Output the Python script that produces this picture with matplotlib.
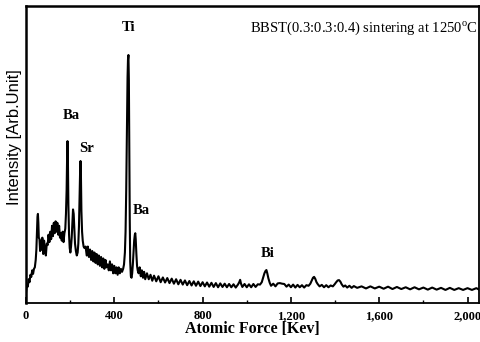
import matplotlib
matplotlib.use("Agg")
import matplotlib.pyplot as plt
from matplotlib.ticker import MultipleLocator, FuncFormatter

energy = [
    0, 4, 8, 12, 16, 20, 24, 28, 32, 36, 40, 44, 47, 50, 52, 54, 56, 58, 61, 64, 67,
    70, 74, 78, 82, 86, 90, 94, 98, 102, 106, 110, 114, 118, 122, 126, 130, 134, 138, 142,
    146, 150, 154, 158, 162, 166, 170, 174, 178,
    181, 184, 186, 188, 190, 192, 195, 198, 201, 204, 207, 210, 213, 216, 219, 222, 226,
    230, 234, 237, 240, 243, 245, 247, 249, 251, 254, 257, 261, 265, 270,
    275, 280, 285, 290, 295, 300, 305, 310, 315, 320, 325, 330, 335, 340, 345, 350, 355,
    360, 365, 370, 375, 380, 385, 390, 395, 400, 405, 410, 415, 420, 425, 430, 435, 440,
    444, 448, 451, 454, 457, 460, 462, 464, 466, 468, 470, 472, 475, 478,
    481, 484, 487, 490, 493, 495, 497, 500, 503, 506, 510,
    515, 520, 525, 530, 535, 540, 548, 556, 564, 572, 580, 590, 600, 610, 620, 630, 640,
    650, 660, 670, 680, 690, 700, 710, 720, 730, 740, 750, 760, 770, 780, 790, 800, 810,
    820, 830, 840, 850, 860, 870, 880, 890, 900, 910, 920, 930, 940, 950, 960, 966, 970,
    974, 980, 990, 1000,
    1010, 1020, 1030, 1040, 1050, 1060, 1068, 1074, 1080, 1085, 1089, 1093, 1098, 1104,
    1110, 1120, 1130, 1140, 1150, 1160, 1170, 1180, 1190, 1200, 1210, 1220, 1230, 1240,
    1250, 1260, 1270, 1280, 1288, 1294, 1300, 1305, 1310, 1316, 1322, 1330, 1340, 1350,
    1360, 1370, 1380, 1390, 1398, 1405, 1412, 1418, 1424, 1430, 1438, 1446, 1455, 1465,
    1475, 1485, 1500,
    1520, 1540, 1560, 1580, 1600, 1620, 1640, 1660, 1680, 1700, 1720, 1740, 1760, 1780,
    1800, 1820, 1840, 1860, 1880, 1900, 1920, 1940, 1960, 1980, 2000, 2020, 2040, 2050,
]

intensity = [
    3.5, 6, 5.5, 8, 7, 9.5, 8.8, 11, 9.8, 11.5, 12, 14.5, 18, 25, 29, 30, 27, 22, 21.5, 17.5, 21,
    18, 22, 16.5, 21, 17.5, 16, 20, 19.5, 23, 20.5, 24, 21.5, 26, 22.5, 27, 23.5, 27.5, 24, 27,
    23, 26, 22, 23.5, 21, 24, 20.5, 23.5, 25,
    30, 38, 48, 54.5, 47, 33, 23, 18.5, 17, 19, 22, 27, 31.5, 30, 25, 20, 17.5,
    16, 17, 20, 26, 37, 44, 47.8, 42, 31, 24, 21, 19, 18.5, 19,
    16, 19, 15.5, 18, 14.5, 17.5, 14, 17, 13.5, 16.5, 13, 16, 12.5, 15.5, 12, 15, 11.5,
    14.5, 12, 13, 11, 14, 11, 13, 10, 12.5, 10, 12, 9.5, 12, 10, 11.5, 10.5, 11.5,
    13, 17, 24, 38, 58, 76, 82, 83.5, 75, 52, 28, 14, 9, 8.5,
    10, 13, 17, 21, 23, 23.5, 21.5, 16.5, 12.5, 11, 10,
    12, 9, 11, 8.5, 10.5, 8, 10, 8, 9.5, 7.5, 9.2, 7.3, 9, 7, 8.6, 6.9, 8.4,
    6.7, 8.2, 6.5, 8, 6.3, 7.8, 6.2, 7.6, 6, 7.4, 5.9, 7.3, 5.8, 7.2, 5.7, 7, 5.6,
    6.9, 5.5, 6.8, 5.4, 6.7, 5.3, 6.6, 5.4, 6.5, 5.3, 6.4, 5.3, 6.3, 5.2, 6.2, 7, 7.8,
    6.5, 5.4, 6.4, 5.3,
    6.3, 5.3, 6.4, 5.4, 6.3, 6.2, 7, 8.5, 10, 10.8, 11.1, 10, 8.3, 6.8,
    5.8, 6.5, 5.6, 6.6, 6.7, 6.5, 6.4, 5.5, 6.2, 5.3, 6.2, 5.2, 6.1, 5.3,
    6, 5.2, 6, 5.8, 6.5, 7.5, 8.5, 8.8, 8.2, 7, 6.3, 5.6, 6.1, 5.3,
    6, 5.3, 5.9, 5.6, 6.3, 7, 7.6, 7.7, 7.2, 6.3, 5.5, 5.9, 5.2, 5.8,
    5.1, 5.7, 5.1,
    5.6, 4.9, 5.6, 4.9, 5.5, 4.8, 5.5, 4.7, 5.4, 4.7, 5.3, 4.6, 5.3, 4.6,
    5.2, 4.5, 5.2, 4.5, 5.1, 4.4, 5.1, 4.4, 5, 4.4, 5, 4.4, 5, 4.6,
]

peak_labels = ["Ti", "Ba", "Sr", "Ba", "Bi"]
peak_label_x = [465, 203, 276, 524, 1093]
peak_label_y = [92.6, 63, 52, 31, 16.8]

title_text = "BBST(0.3:0.3:0.4) sintering at 1250$^{\\mathregular{o}}$C"
x_ticks = [0, 400, 800, 1200, 1600, 2000]

fig = plt.figure(figsize=(4.81, 3.42), dpi=100)
ax = fig.add_axes([26 / 481, 39 / 342, 453 / 481, 297 / 342])
ax.plot(energy, intensity, color="black", linewidth=1.5)
ax.set_xlim(0, 2052)
ax.set_ylim(0, 100)

serif = ["Liberation Serif", "DejaVu Serif"]
ax.set_xticks(x_ticks)
ax.xaxis.set_minor_locator(MultipleLocator(200))
ax.xaxis.set_major_formatter(FuncFormatter(lambda v, p: f"{int(v):,}"))
ax.tick_params(axis="x", which="major", direction="in", length=4, width=1.2,
               labelsize=9, pad=5)
ax.tick_params(axis="x", which="minor", direction="in", length=2.5, width=1.0)
ax.set_yticks([])
for lbl in ax.get_xticklabels():
    lbl.set_fontfamily(serif)
    lbl.set_fontweight("bold")

for side in ["left", "top"]:
    ax.spines[side].set_linewidth(1.8)
for side in ["right", "bottom"]:
    ax.spines[side].set_linewidth(1.3)

ax.set_xlabel("Atomic Force [Kev]", fontsize=11.5, fontweight="bold",
              fontfamily=serif, labelpad=-1)
ax.set_ylabel("Intensity [Arb.Unit]", fontsize=12,
              fontfamily=["Liberation Sans", "DejaVu Sans"])
ax.yaxis.set_label_coords(-0.008, 0.56)

for t, xx, yy in zip(peak_labels, peak_label_x, peak_label_y):
    ax.text(xx, yy, t, fontsize=10.5, fontweight="bold", fontfamily=serif,
            ha="center", va="center")

ax.text(2045, 92.6, title_text, fontsize=10.5, fontfamily=serif,
        ha="right", va="center")

fig.savefig("out.png", dpi=100)
